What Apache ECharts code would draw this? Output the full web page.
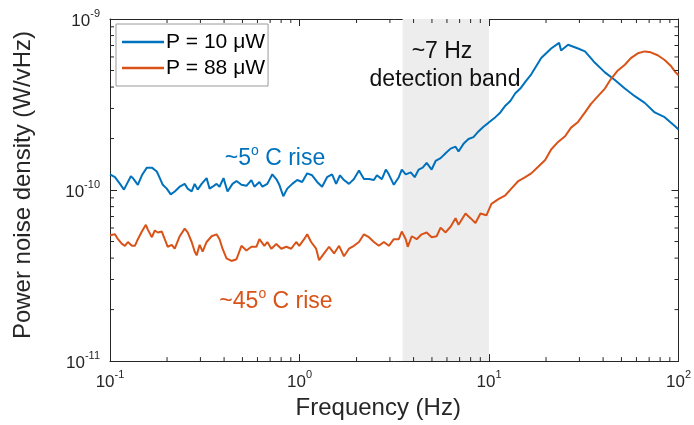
<!DOCTYPE html>
<html>
<head>
<meta charset="utf-8">
<script src="https://cdn.jsdelivr.net/npm/echarts@6/dist/echarts.min.js"></script>
<style>html,body{margin:0;padding:0;background:#fff}#c{width:694px;height:425px}</style>
</head>
<body>
<div id="c"></div>
<script>
// Frequencies in Hz, values in units of 1e-10 W/sqrt(Hz)
const blueFreq = [0.1,0.1062,0.1129,0.1185,0.1228,0.1289,0.1321,0.1403,0.1473,0.1565,0.1663,0.1766,0.1832,0.1899,0.1993,0.2092,0.2196,0.2333,0.2479,0.2570,0.2698,0.2798,0.2901,0.3045,0.3234,0.3355,0.3478,0.3650,0.3785,0.3973,0.4170,0.4431,0.4650,0.4940,0.5247,0.5574,0.5781,
0.6143,0.6370,0.6765,0.7187,0.7543,0.7825,0.8213,0.8619,0.9156,0.9725,1.033,1.098,1.166,1.239,1.316,1.398,1.486,1.560,1.636,1.717,1.824,1.938,2.060,2.188,2.325,2.470,2.561,2.720,2.855,2.961,3.146,3.342,3.466,3.637,
3.864,4.055,4.256,4.467,4.690,4.982,5.229,5.554,5.901,6.270,6.660,6.906,7.336,7.795,8.282,8.800,9.346,9.929,10.81,11.48,12.20,12.96,13.77,14.63,15.54,
16.71,18.86,21.28,23.44,24.01,26.14,29.51,32.11,36.24,40.90,46.16,52.11,58.81,66.37,74.91,84.53,96.57,100];
const blueVal = [1.236,1.189,1.087,1.006,1.087,1.204,1.174,1.073,1.220,1.352,1.352,1.284,1.174,1.073,1.019,0.944,0.981,1.046,1.087,1.019,0.981,1.087,1.006,1.087,1.174,1.019,1.046,1.087,1.046,1.174,0.981,1.087,1.129,1.073,1.059,1.144,1.046,
1.115,1.046,1.087,1.236,1.159,1.073,0.920,1.019,1.087,1.144,1.115,1.252,1.220,1.115,1.046,1.189,1.236,1.087,1.220,1.144,1.087,1.159,1.301,1.159,1.159,1.144,1.220,1.159,1.318,1.236,1.073,1.189,1.318,1.236,
1.268,1.189,1.318,1.352,1.441,1.318,1.479,1.537,1.639,1.747,1.793,1.681,1.863,1.987,2.038,2.201,2.347,2.471,2.668,2.844,3.112,3.318,3.678,3.921,4.290,
4.752,5.910,6.721,7.256,6.550,7.072,6.721,6.466,5.543,4.876,4.401,3.921,3.538,3.234,2.844,2.668,2.347,2.258];

const orangeFreq = [0.1,0.1062,0.1102,0.1156,0.1199,0.1243,0.1305,0.1353,0.1403,0.1473,0.1546,0.1584,0.1663,0.1724,0.1787,0.1877,0.1945,0.2017,0.2118,0.2196,0.2333,0.2479,0.2570,0.2698,0.2798,0.2866,0.2972,0.3082,0.3234,0.3436,0.3650,0.3785,0.3925,0.4120,0.4377,0.4650,0.4940,0.5247,0.5574,0.5922,
0.6143,0.6525,0.6765,0.7101,0.7543,0.8017,0.8515,0.9045,0.9610,0.9965,1.058,1.098,1.152,1.224,1.269,1.348,1.432,1.522,1.617,1.717,1.824,1.938,2.060,2.188,2.325,2.470,2.624,2.787,2.961,3.146,3.342,3.466,3.637,
3.726,3.911,4.154,4.413,4.690,4.982,5.293,5.554,5.901,6.270,6.660,6.906,7.516,7.986,8.484,9.015,9.691,10.30,11.21,12.20,13.12,14.28,15.54,16.71,18.18,19.79,21.28,23.16,25.20,27.10,29.51,32.11,34.53,37.58,40.90,43.98,47.87,52.11,56.03,61.00,66.37,71.39,77.68,84.53,90.89,96.57,100];
const orangeVal = [0.544,0.551,0.516,0.484,0.472,0.497,0.472,0.472,0.516,0.572,0.626,0.587,0.530,0.580,0.565,0.572,0.516,0.466,0.478,0.454,0.537,0.595,0.565,0.497,0.437,0.415,0.478,0.437,0.497,0.537,0.551,0.516,0.454,0.399,0.385,0.394,0.472,0.443,0.466,0.466,
0.516,0.472,0.497,0.454,0.484,0.454,0.466,0.454,0.497,0.472,0.516,0.551,0.497,0.454,0.389,0.426,0.466,0.426,0.472,0.410,0.454,0.472,0.497,0.551,0.530,0.497,0.472,0.497,0.472,0.516,0.516,0.572,0.516,
0.466,0.537,0.516,0.551,0.565,0.530,0.537,0.603,0.565,0.610,0.685,0.626,0.730,0.685,0.642,0.730,0.712,0.830,0.885,0.932,1.019,1.129,1.189,1.252,1.369,1.498,1.725,1.911,2.064,2.317,2.502,2.844,3.193,3.538,3.921,4.457,5.003,5.402,5.910,6.302,6.466,6.383,6.142,5.760,5.333,4.876,4.692];

const seriesNames = ['P = 10 \u03bcW', 'P = 88 \u03bcW'];
const bandRange = [3.5, 10];
const xRange = [0.1, 100];
const yRange = [1e-11, 1e-9];
const unit = 1e-10;

const blueColor = '#0072BD', orangeColor = '#D95319', axisColor = '#262626';
const FONT = 'Liberation Sans';

function pairs(f, v) { return f.map((x, i) => [x, v[i] * unit]); }

// minor tick values (2..9 per decade)
const xMinor = [], yMinor = [];
for (let e = -1; e < 2; e++) for (let m = 2; m <= 9; m++) xMinor.push(m * Math.pow(10, e));
for (let e = -11; e < -9; e++) for (let m = 2; m <= 9; m++) yMinor.push(m * Math.pow(10, e));

const supFmt = v => '{b|10}{s|' + Math.round(Math.log10(v)) + '}';
const richTick = { b: { fontSize: 17, color: axisColor, fontFamily: FONT, lineHeight: 22, verticalAlign: 'bottom' }, s: { fontSize: 11, color: axisColor, fontFamily: FONT, lineHeight: 22, verticalAlign: 'top' } };

const chart = echarts.init(document.getElementById('c'), null, { renderer: 'canvas' });
const baseAxis = {
  type: 'log', logBase: 10,
  axisLine: { show: true, lineStyle: { color: axisColor, width: 1 } },
  axisTick: { show: true, inside: true, length: 7, lineStyle: { color: axisColor } },
  splitLine: { show: false },
  minorTick: { show: false },
};
const annRich = (c) => ({ b: { fontSize: 23, fontFamily: FONT, fill: c, color: c, lineHeight: 26, verticalAlign: 'bottom' }, s: { fontSize: 14, fontFamily: FONT, fill: c, color: c, lineHeight: 26, verticalAlign: 'top' } });
chart.setOption({
  animation: false,
  grid: { left: 110, right: 12, top: 19, bottom: 46 },
  legend: {
    orient: 'vertical', left: 116, top: 24,
    data: seriesNames,
    icon: 'rect', itemWidth: 42, itemHeight: 2.5, itemGap: 4,
    padding: [7, 3, 7, 6],
    backgroundColor: '#fff', borderColor: '#9a9a9a', borderWidth: 1,
    textStyle: { fontSize: 21, lineHeight: 22, color: '#000', fontFamily: FONT, padding: [0, 0, 0, -3] }
  },
  xAxis: [
    Object.assign({}, baseAxis, { min: xRange[0], max: xRange[1], splitNumber: 3, position: 'bottom',
      axisLabel: { formatter: supFmt, rich: richTick, margin: 8 },
      name: 'Frequency (Hz)', nameLocation: 'middle', nameGap: 29,
      nameTextStyle: { fontSize: 24, color: axisColor, fontFamily: FONT, padding: [0, 32, 0, 0] } }),
    Object.assign({}, baseAxis, { min: xRange[0], max: xRange[1], splitNumber: 3, position: 'top', axisLabel: { show: false } })
  ],
  yAxis: [
    Object.assign({}, baseAxis, { min: yRange[0], max: yRange[1], splitNumber: 2, position: 'left',
      axisLabel: { formatter: supFmt, rich: richTick, margin: 10 },
      name: 'Power noise density (W/vHz)', nameLocation: 'middle', nameGap: 75,
      nameTextStyle: { fontSize: 24, color: axisColor, fontFamily: FONT, padding: [0, 0, 0, 10] } }),
    Object.assign({}, baseAxis, { min: yRange[0], max: yRange[1], splitNumber: 2, position: 'right', axisLabel: { show: false } })
  ],
  series: [
    {
      name: seriesNames[0], type: 'line', data: pairs(blueFreq, blueVal), showSymbol: false, symbol: 'none',
      lineStyle: { color: blueColor, width: 2 }, itemStyle: { color: blueColor }, z: 3,
      markArea: { silent: true, itemStyle: { color: '#ededed' }, data: [[{ xAxis: bandRange[0] }, { xAxis: bandRange[1] }]] }
    },
    {
      name: seriesNames[1], type: 'line', data: pairs(orangeFreq, orangeVal), showSymbol: false, symbol: 'none',
      lineStyle: { color: orangeColor, width: 2 }, itemStyle: { color: orangeColor }, z: 3
    },
    {
      type: 'custom', silent: true, z: 4,
      data: xMinor.map(v => [v, 'x']).concat(yMinor.map(v => [v, 'y'])),
      encode: { x: -1, y: -1 },
      renderItem: function (params, api) {
        const v = api.value(0), kind = api.value(1);
        if (kind === 'x') {
          const b = api.coord([v, yRange[0]]), t = api.coord([v, yRange[1]]);
          return { type: 'group', children: [
            { type: 'line', shape: { x1: b[0], y1: b[1], x2: b[0], y2: b[1] - 4 }, style: { stroke: axisColor, lineWidth: 1 } },
            { type: 'line', shape: { x1: t[0], y1: t[1], x2: t[0], y2: t[1] + 4 }, style: { stroke: axisColor, lineWidth: 1 } }
          ]};
        } else {
          const l = api.coord([xRange[0], v]), r = api.coord([xRange[1], v]);
          return { type: 'group', children: [
            { type: 'line', shape: { x1: l[0], y1: l[1], x2: l[0] + 4, y2: l[1] }, style: { stroke: axisColor, lineWidth: 1 } },
            { type: 'line', shape: { x1: r[0], y1: r[1], x2: r[0] - 4, y2: r[1] }, style: { stroke: axisColor, lineWidth: 1 } }
          ]};
        }
      }
    }
  ],
  graphic: [
    { type: 'text', z: 10, style: { x: 442, y: 52, text: '~7 Hz', textAlign: 'center', textVerticalAlign: 'middle', fontSize: 23, fontFamily: FONT, fill: '#111' } },
    { type: 'text', z: 10, style: { x: 445, y: 80, text: 'detection band', textAlign: 'center', textVerticalAlign: 'middle', fontSize: 23, fontFamily: FONT, fill: '#111' } },
    { type: 'text', z: 10, style: { x: 275, y: 157, text: '{b|~5}{s|o}{b| C rise}', textAlign: 'center', textVerticalAlign: 'middle', fill: blueColor, rich: annRich(blueColor) } },
    { type: 'text', z: 10, style: { x: 276, y: 300, text: '{b|~45}{s|o}{b| C rise}', textAlign: 'center', textVerticalAlign: 'middle', fill: orangeColor, rich: annRich(orangeColor) } }
  ]
});
</script>
</body>
</html>
